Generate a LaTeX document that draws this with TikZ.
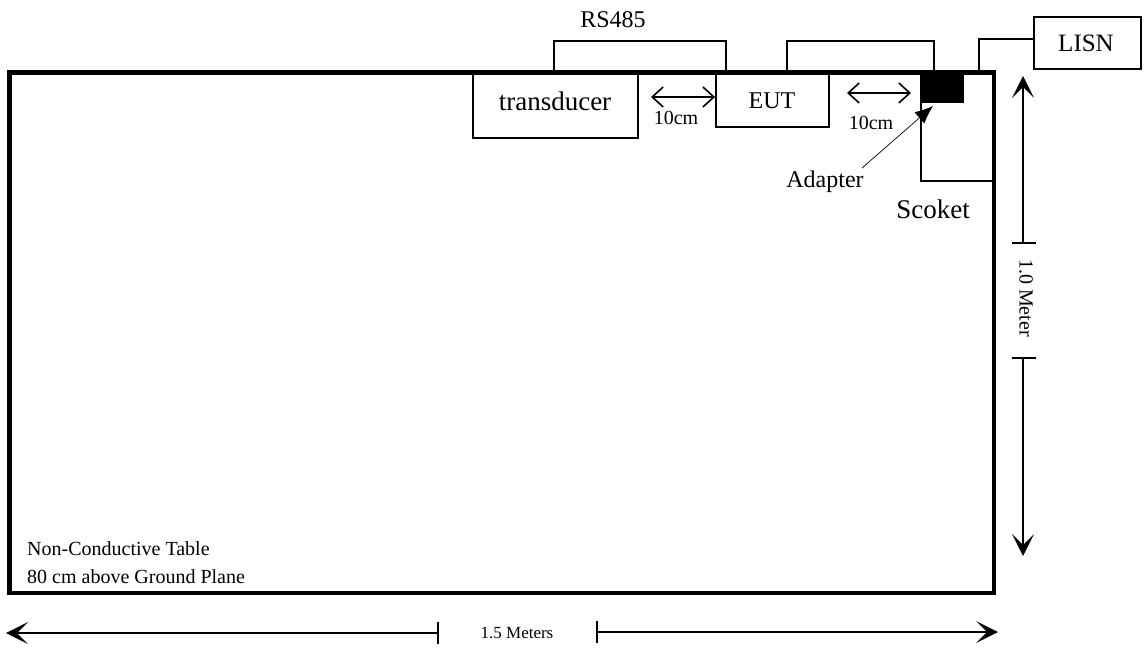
\documentclass[tikz,border=0pt]{standalone}
\usepackage{fontspec}
\setmainfont{Liberation Serif}
\usetikzlibrary{arrows.meta}
\newcommand{\fsz}[1]{\fontsize{#1}{#1}\selectfont}
\begin{document}
\begin{tikzpicture}[x=1pt,y=-1pt,
  boxline/.style={draw=black,line width=1.8pt,inner sep=0pt},
  cable/.style={draw=black,line width=1.8pt},
  tableline/.style={draw=black,line width=3pt},
  dimline/.style={draw=black,line width=1.5pt},
  bigtip/.style={-{Stealth[length=22pt,width=22pt,inset=11pt,line width=0pt]}},
  smalltip/.style={{Straight Barb[length=11pt,width=20pt,line width=1.6pt]}-{Straight Barb[length=11pt,width=20pt,line width=1.6pt]}},
  lbl/.style={inner sep=0pt,text=black}
]
\useasboundingbox (0,0) rectangle (1144,648);
% table
\node[tableline,minimum width=983pt,minimum height=519pt,inner sep=0pt] (table) at (501.5,332.5) {};
% boxes
\node[boxline,minimum width=165pt,minimum height=65pt] (tr) at (555.5,105.5) {};
\node[lbl,font=\fsz{27}] (trl) at (555,101) {transducer};
\node[boxline,minimum width=113pt,minimum height=53pt] (eut) at (772.5,100.5) {};
\node[lbl,font=\fsz{24}] (eutl) at (772,101) {EUT};
\node[boxline,minimum width=72pt,minimum height=107pt] (sock) at (957,127.5) {};
\node[draw=black,fill=black,minimum width=42pt,minimum height=28pt,inner sep=0pt] (adp) at (942,88) {};
\node[boxline,minimum width=107pt,minimum height=52pt] (lisn) at (1087.5,43) {};
\node[lbl,font=\fsz{25}] (lisnl) at (1086,43) {LISN};
% redraw table border on top
\draw[tableline] (table.north west) rectangle (table.south east);
% cables
\coordinate (c1a) at (554,74);
\coordinate (c1b) at (726,74);
\draw[cable] (c1a) -- (554,41) -- (726,41) -- (c1b);
\node[lbl,font=\fsz{24}] (rs) at (613,20) {RS485};
\coordinate (c2a) at (787,74);
\coordinate (c2b) at (934,74);
\draw[cable] (c2a) -- (787,41) -- (934,41) -- (c2b);
\coordinate (c3a) at (979,74);
\draw[cable] (c3a) -- (979,39) -- (lisn.west |- 0,39);
% 10cm arrows
\coordinate (a1) at (651,97);
\draw[dimline,smalltip] (a1) -- (eut.west |- a1);
\node[lbl,font=\fsz{20}] (cm1) at (676,118) {10cm};
\coordinate (a2a) at (847,93);
\coordinate (a2b) at (911,93);
\draw[dimline,smalltip] (a2a) -- (a2b);
\node[lbl,font=\fsz{20}] (cm2) at (871,123) {10cm};
% adapter pointer
\coordinate (ap) at (862,168);
\draw[black,line width=0.7pt,-{Latex[length=18pt,width=15pt]}] (ap) -- (933,106);
\node[lbl,font=\fsz{24}] (adl) at (825,182) {Adapter};
\node[lbl,font=\fsz{27}] (sckl) at (933,209) {Scoket};
% vertical dimension
\coordinate (v1) at (1023,243);
\coordinate (v1t) at (1023,76);
\coordinate (v2) at (1023,358);
\coordinate (v2t) at (1023,556);
\draw[dimline,bigtip] (v1) -- (v1t);
\draw[dimline] (1012,243) -- (1036,243);
\draw[dimline,bigtip] (v2) -- (v2t);
\draw[dimline] (1012,358) -- (1036,358);
\node[lbl,font=\fsz{20},rotate=-90] (vm) at (1026,298) {1.0 Meter};
% horizontal dimension
\coordinate (h1) at (438,633);
\coordinate (h1t) at (6,633);
\coordinate (h2) at (597,632);
\coordinate (h2t) at (998,632);
\draw[dimline,bigtip] (h1) -- (h1t);
\draw[dimline] (438,622) -- (438,644);
\draw[dimline,bigtip] (h2) -- (h2t);
\draw[dimline] (597,621) -- (597,643);
\node[lbl,font=\fsz{17}] (hm) at (517,633) {1.5 Meters};
% table text
\node[lbl,font=\fsz{20},anchor=west,align=left] (tt1) at (27,549) {Non-Conductive Table};
\node[lbl,font=\fsz{20},anchor=west,align=left] (tt2) at (27,577) {80 cm above Ground Plane};
\end{tikzpicture}
\end{document}
